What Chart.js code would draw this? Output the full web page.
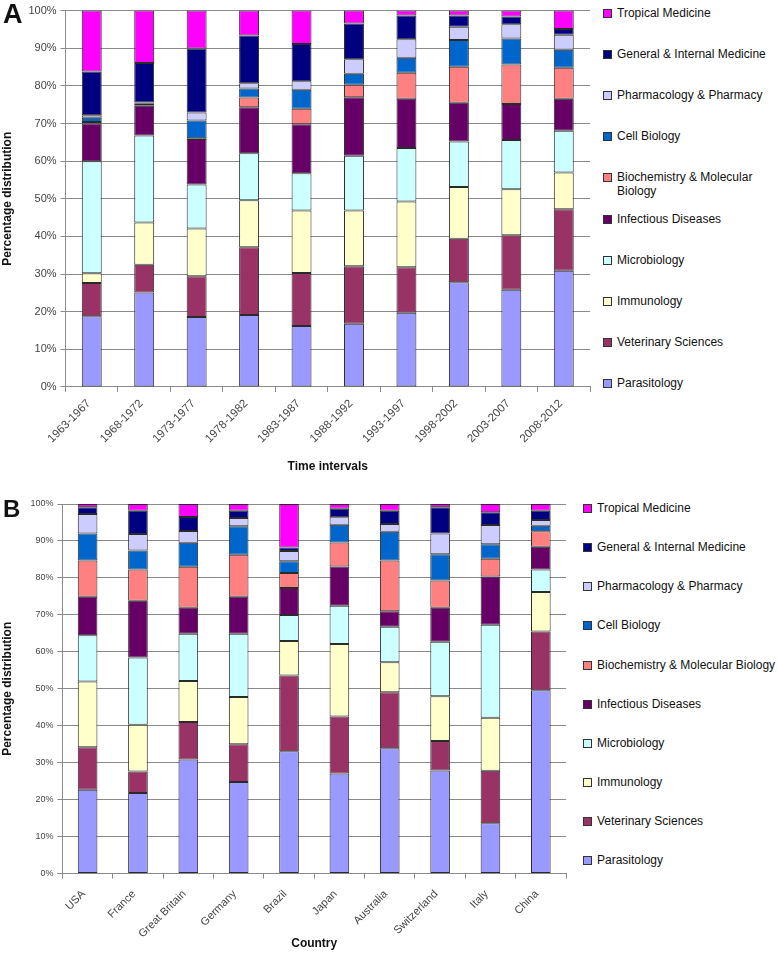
<!DOCTYPE html>
<html>
<head>
<meta charset="utf-8">
<script src="https://cdn.jsdelivr.net/npm/chart.js@4.4.1/dist/chart.umd.min.js"></script>
<style>
  body { margin: 0; background: #fff; font-family: "Liberation Sans", Arial, sans-serif; }
  #page { position: relative; width: 778px; height: 957px; background: #fff; overflow: hidden; }
  canvas { position: absolute; left: 0; }
  .panel-letter { position: absolute; font-weight: bold; color: #111; line-height: 1; }
  .legend { position: absolute; color: #111; font-size: 12px; }
  .legend .item { position: absolute; left: 0; display: flex; align-items: flex-start; line-height: 14px; }
  .legend .box { width: 7px; height: 7px; border: 1px solid #333; margin-top: 3px; margin-right: 5px; flex: none; }
</style>
</head>
<body>
<div id="page">
  <canvas id="chartA" width="596" height="478" style="top:0"></canvas>
  <canvas id="chartB" width="572" height="479" style="top:478px"></canvas>
  <div class="panel-letter" style="left:3px; top:1px; font-size:27px">A</div>
  <div class="panel-letter" style="left:3px; top:497px; font-size:24px">B</div>
  <div class="legend" id="legendA" style="left:603px; top:0; width:175px"></div>
  <div class="legend" id="legendB" style="left:583px; top:0; width:195px"></div>
</div>
<script>
// ===== Data =====

const periods = ['1963-1967', '1968-1972', '1973-1977', '1978-1982', '1983-1987',
  '1988-1992', '1993-1997', '1998-2002', '2003-2007', '2008-2012'];
const countries = ['USA', 'France', 'Great Britain', 'Germany', 'Brazil',
  'Japan', 'Australia', 'Switzerland', 'Italy', 'China'];

const subjects = ['Parasitology', 'Veterinary Sciences', 'Immunology', 'Microbiology',
  'Infectious Diseases', 'Biochemistry & Molecular Biology', 'Cell Biology',
  'Pharmacology & Pharmacy', 'General & Internal Medicine', 'Tropical Medicine'];
const subjectColors = ['#9999ff', '#993366', '#ffffcc', '#ccffff', '#660066',
  '#ff8080', '#0066cc', '#ccccff', '#000080', '#ff00ff'];

const yTicks = [0, 10, 20, 30, 40, 50, 60, 70, 80, 90, 100];

// panel A: % per time interval
const parasitologyA = [18.8, 25.1, 18.6, 19.1, 16.2, 16.8, 19.7, 27.8, 25.8, 30.9];
const veterinaryA   = [8.8, 7.4, 10.8, 18.0, 14.1, 15.3, 12.1, 11.6, 14.5, 16.3];
const immunologyA   = [2.6, 11.2, 12.7, 12.5, 16.6, 14.8, 17.5, 13.7, 12.2, 9.8];
const microbiologyA = [29.8, 23.1, 11.7, 12.5, 9.9, 14.5, 14.2, 12.1, 13.1, 11.1];
const infectiousA   = [10.0, 7.9, 12.1, 12.2, 13.0, 15.6, 13.1, 10.3, 9.6, 8.5];
const biochemA      = [0.4, 0.2, 0.2, 2.6, 4.1, 3.3, 6.9, 9.6, 10.5, 8.2];
const cellBiologyA  = [1.1, 0.5, 4.7, 2.4, 5.1, 2.9, 4.0, 7.1, 6.9, 4.8];
const pharmacologyA = [0.7, 0.2, 2.1, 1.4, 2.2, 3.9, 4.9, 3.5, 3.8, 4.0];
const generalMedA   = [11.6, 10.5, 17.0, 12.7, 9.9, 9.5, 6.3, 3.0, 2.0, 1.5];
const tropicalA     = [16.2, 13.9, 10.1, 6.6, 8.9, 3.4, 1.3, 1.3, 1.6, 4.9];

// panel B: % per country
const parasitologyB = [22.7, 21.8, 30.9, 24.8, 33.1, 27.1, 33.9, 27.9, 13.6, 49.6];
const veterinaryB   = [11.5, 5.8, 10.1, 10.2, 20.5, 15.4, 15.2, 8.0, 14.2, 15.9];
const immunologyB   = [17.8, 12.7, 11.1, 12.8, 9.3, 19.6, 8.1, 12.1, 14.4, 10.7];
const microbiologyB = [12.5, 18.2, 12.8, 17.1, 7.1, 10.4, 9.6, 14.7, 25.1, 6.1];
const infectiousB   = [10.4, 15.3, 7.0, 10.0, 7.3, 10.6, 4.2, 9.2, 13.1, 6.1];
const biochemB      = [9.8, 8.5, 11.1, 11.4, 4.0, 6.5, 13.7, 7.4, 4.8, 4.2];
const cellBiologyB  = [7.3, 5.1, 6.5, 7.7, 3.2, 4.8, 7.8, 7.1, 3.9, 1.5];
const pharmacologyB = [5.3, 4.5, 3.2, 2.2, 2.8, 2.0, 2.1, 5.6, 5.2, 1.6];
const generalMedB   = [1.8, 6.3, 3.8, 2.0, 0.9, 2.3, 3.6, 7.1, 3.5, 2.5];
const tropicalB     = [0.9, 1.8, 3.5, 1.8, 11.8, 1.3, 1.8, 0.9, 2.2, 1.8];

const seriesA = [parasitologyA, veterinaryA, immunologyA, microbiologyA, infectiousA,
  biochemA, cellBiologyA, pharmacologyA, generalMedA, tropicalA];
const seriesB = [parasitologyB, veterinaryB, immunologyB, microbiologyB, infectiousB,
  biochemB, cellBiologyB, pharmacologyB, generalMedB, tropicalB];

// ===== Charts =====

const FONT = '"Liberation Sans", Arial, sans-serif';

function makeDatasets(series, barPct) {
  return series.map((data, i) => ({
    label: subjects[i],
    data,
    backgroundColor: subjectColors[i],
    borderColor: '#2a2a2a',
    borderWidth: 1,
    borderSkipped: false,
    barPercentage: barPct,
    categoryPercentage: 1
  }));
}

function makeChart(id, labels, series, opt) {
  const ctx = document.getElementById(id).getContext('2d');
  return new Chart(ctx, {
    type: 'bar',
    data: { labels, datasets: makeDatasets(series, opt.barPct) },
    options: {
      responsive: false,
      animation: false,
      layout: { padding: opt.padding },
      plugins: { legend: { display: false }, tooltip: { enabled: false } },
      scales: {
        x: {
          stacked: true,
          grid: { display: true, drawOnChartArea: false, drawTicks: true, tickLength: 5, color: '#8a8a8a', offset: true },
          border: { color: '#8a8a8a' },
          ticks: { minRotation: 45, maxRotation: 45, color: '#444', padding: opt.xTickPad,
            labelOffset: opt.xLabelOffset, font: { family: FONT, size: opt.xFont } },
          title: { display: true, text: opt.xTitle, color: '#111', padding: opt.xTitlePad,
            font: { family: FONT, size: 12, weight: 'bold' } }
        },
        y: {
          stacked: true,
          min: 0, max: 100,
          afterBuildTicks: axis => { axis.ticks = yTicks.map(v => ({ value: v })); },
          grid: { color: '#8a8a8a', tickLength: 5 },
          border: { color: '#8a8a8a' },
          ticks: { color: '#444', padding: 4, callback: v => v + '%',
            font: { family: FONT, size: opt.yFont } },
          title: { display: true, text: 'Percentage distribution', color: '#111', padding: opt.yTitlePad,
            font: { family: FONT, size: 12, weight: 'bold' } }
        }
      }
    }
  });
}

makeChart('chartA', periods, seriesA, {
  barPct: 0.38, xFont: 11.5, yFont: 11, xTitle: 'Time intervals',
  xTickPad: 5, xLabelOffset: -3,
  padding: { top: 4, right: 6, left: 0, bottom: 4 },
  xTitlePad: { top: 9, bottom: 0 }, yTitlePad: { top: 0, bottom: 10 }
});

makeChart('chartB', countries, seriesB, {
  barPct: 0.39, xFont: 11, yFont: 9, xTitle: 'Country',
  xTickPad: 9, xLabelOffset: -4,
  padding: { top: 26, right: 6, left: 0, bottom: 6 },
  xTitlePad: { top: -13, bottom: 0 }, yTitlePad: { top: 0, bottom: 12 }
});

// ===== HTML legends (top item = last series) =====

function buildLegend(id, firstCenter, step) {
  const el = document.getElementById(id);
  subjects.slice().reverse().forEach((name, j) => {
    const i = subjects.length - 1 - j;
    const item = document.createElement('div');
    item.className = 'item';
    item.style.top = (firstCenter + j * step - 7) + 'px';
    item.innerHTML = `<span class="box" style="background:${subjectColors[i]}"></span><span>${esc(name)}</span>`;
    el.appendChild(item);
  });
}

function esc(str) {
  return String(str).replace(/&/g, '&amp;').replace(/</g, '&lt;').replace(/>/g, '&gt;');
}

buildLegend('legendA', 13, 41.1);
buildLegend('legendB', 508, 39.15);
</script>
</body>
</html>
